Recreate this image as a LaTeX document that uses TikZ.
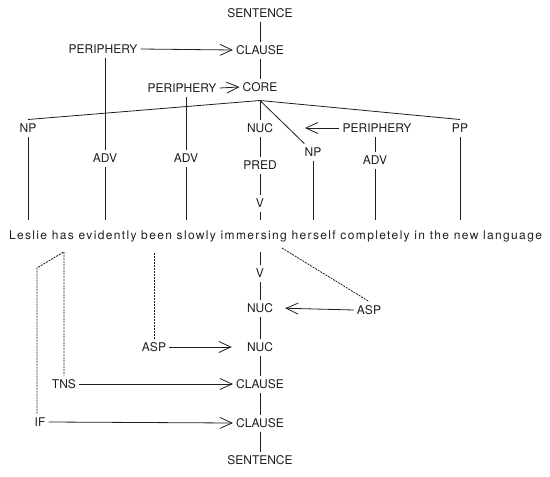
\documentclass[tikz,border=0pt]{standalone}
\usepackage{fontspec}
\setmainfont{TeX Gyre Heros}
\newfontfamily\spacedfont[LetterSpace=11.3]{TeX Gyre Heros}
\usetikzlibrary{arrows.meta}
\definecolor{inkgray}{RGB}{30,30,30}

\begin{document}
\begin{tikzpicture}[
    x=1pt, y=-1pt,
    lbl/.style={font=\fontsize{12}{14}\selectfont, text=inkgray, inner xsep=3pt, inner ysep=4pt, text height=8.6pt, text depth=0pt},
    sentlbl/.style={font=\spacedfont\fontsize{12}{14}\selectfont, text=inkgray, inner xsep=2pt, inner ysep=10pt, anchor=base},
    tline/.style={line width=0.8pt, inkgray},
    arr/.style={-{Straight Barb[length=12pt, width=11pt]}, line width=0.8pt, inkgray},
    opline/.style={line width=0.8pt, inkgray, dash pattern=on 2pt off 1pt},
  ]
    \useasboundingbox (0,0) rectangle (550,477);

    % ===== CONSTITUENT PROJECTION (above the sentence) =====
    \node[lbl] (senttop) at (260,13) {SENTENCE};
    \node[lbl] (clause1) at (260,50) {CLAUSE};
    \node[lbl] (core) at (260,87) {CORE};
    \node[lbl] (perclause) at (103,49) {PERIPHERY};
    \node[lbl] (percore) at (182,88) {PERIPHERY};

    \node[lbl] (np1) at (28,128) {NP};
    \node[lbl] (nuc1) at (260,128) {NUC};
    \node[lbl] (pernuc) at (377,128) {PERIPHERY};
    \node[lbl] (pp) at (460,128) {PP};

    \node[lbl] (adv1) at (105,158) {ADV};
    \node[lbl] (adv2) at (186,158) {ADV};
    \node[lbl] (pred) at (260,165) {PRED};
    \node[lbl] (np2) at (313,152) {NP};
    \node[lbl] (adv3) at (375,160) {ADV};
    \node[lbl] (vtop) at (260,203) {V};

    % Spine and branches from CORE
    \draw[tline] (senttop) -- (clause1) -- (core);
    \coordinate (corefoot) at ([yshift=-5pt]core.south);
    \draw[tline] (corefoot) -- (np1.north);
    \draw[tline] (corefoot) -- (pp.north);
    \draw[tline] (corefoot) -- (nuc1.north);
    \draw[tline] (corefoot) -- (np2);
    \draw[tline] (nuc1) -- (pred) -- (vtop);

    % Peripheries
    \draw[tline] (perclause.south -| adv1) -- (adv1.north);
    \draw[tline] (percore.south -| adv2) -- (adv2.north);
    \draw[tline] (pernuc.south -| adv3) -- (adv3.north);
    \draw[arr] (perclause.east) -- (clause1.west);
    \draw[arr] (percore.east) -- (core.west);
    \coordinate (nucpoint) at (305,128);
    \draw[arr] (pernuc.west) -- (nucpoint);

    % ===== THE SENTENCE =====
    \node[sentlbl] (sent) at (275.5,239) {Leslie has evidently been slowly immersing herself completely in the new language};

    % Lines down to the words
    \foreach \w in {np1,adv1,adv2,vtop,np2,adv3,pp}{
      \draw[tline] (\w.south) -- (\w.south |- sent.north);
    }

    % ===== OPERATOR PROJECTION (below the sentence) =====
    \node[lbl] (vbot) at (260,273) {V};
    \node[lbl] (nuc2) at (260,308) {NUC};
    \node[lbl] (asp1) at (369,310) {ASP};
    \node[lbl] (nuc3) at (260,347) {NUC};
    \node[lbl] (asp2) at (154,347) {ASP};
    \node[lbl] (clause2) at (260,384) {CLAUSE};
    \node[lbl] (tns) at (64,384) {TNS};
    \node[lbl] (clause3) at (260,423) {CLAUSE};
    \node[lbl] (ifop) at (40,422) {IF};
    \node[lbl] (sentbot) at (260,460) {SENTENCE};

    \draw[tline] (vbot |- sent.south) -- (vbot) -- (nuc2) -- (nuc3)
      -- (clause2) -- (clause3) -- (sentbot);

    % Operators
    \draw[arr, shorten >=9pt] (asp1.west) -- (nuc2.east);
    \draw[arr, shorten >=12pt] (asp2.east) -- (nuc3.west);
    \draw[arr] (tns.east) -- (clause2.west);
    \draw[arr] (ifop.east) -- (clause3.west);

    % Dotted links from the words
    \coordinate (immend) at (282,248);
    \draw[opline] (immend) -- (asp1.north);
    \draw[opline] (asp2.north) -- (asp2.north |- sent.south);
    \coordinate (ifbend) at (37,268);
    \draw[opline] (ifop.north -| ifbend) -- (ifbend) -- (tns.north |- sent.south) -- (tns.north);

  \end{tikzpicture}
\end{document}
